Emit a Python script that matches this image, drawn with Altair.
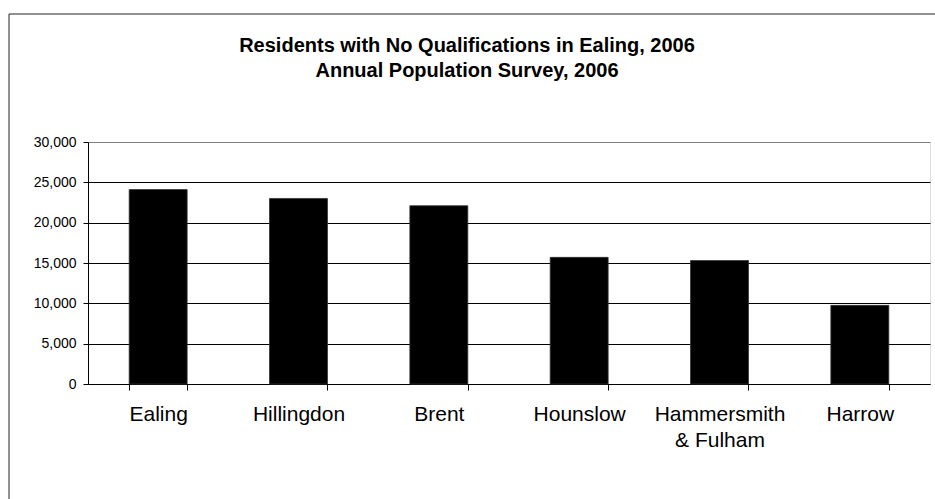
import altair as alt
import pandas as pd

# Residents with no qualifications, by West London borough (APS 2006)
boroughs = ["Ealing", "Hillingdon", "Brent", "Hounslow", "Hammersmith & Fulham", "Harrow"]
residents = [24100, 23000, 22100, 15700, 15300, 9750]

y_ticks = [0, 5000, 10000, 15000, 20000, 25000, 30000]

df = pd.DataFrame({"borough": boroughs, "residents": residents})

FONT = "Liberation Sans"

bars = alt.Chart(df).mark_bar(color="black", stroke="#333333", strokeWidth=0.8).encode(
    x=alt.X(
        "borough:N",
        sort=boroughs,
        title=None,
        scale=alt.Scale(paddingInner=0.587, paddingOuter=0.2935),
        axis=alt.Axis(
            labelAngle=0,
            labelFont=FONT,
            labelFontSize=21,
            labelColor="black",
            labelPadding=13,
            labelLineHeight=26,
            labelExpr="datum.label == 'Hammersmith & Fulham' ? ['Hammersmith', '& Fulham'] : datum.label",
            tickBand="extent",
            tickSize=6,
            tickColor="black",
            domainColor="black",
            grid=False,
        ),
    ),
    y=alt.Y(
        "residents:Q",
        title=None,
        scale=alt.Scale(domain=[0, 30000], nice=False),
        axis=alt.Axis(
            values=y_ticks,
            format=",.0f",
            labelFont=FONT,
            labelFontSize=14,
            labelColor="black",
            labelPadding=7,
            tickSize=5,
            tickColor="black",
            domainColor="black",
            grid=True,
            gridColor=alt.condition("datum.value >= 30000", alt.value("#808080"), alt.value("black")),
            gridWidth=1,
        ),
    ),
)

# Outer frame around the whole chart (top and left edges)
frame_top = alt.Chart().mark_rule(color="#222222", strokeWidth=1).encode(
    x=alt.value(-79), x2=alt.value(850), y=alt.value(-128)
)
frame_left = alt.Chart().mark_rule(color="#222222", strokeWidth=1).encode(
    x=alt.value(-79), y=alt.value(-128), y2=alt.value(360)
)

chart = alt.layer(bars, frame_top, frame_left).properties(
    width=842,
    height=242,
    autosize=alt.AutoSizeParams(type="none"),
    padding={"left": 88, "top": 142, "right": 5, "bottom": 115},
    title=alt.TitleParams(
        text=["Residents with No Qualifications in Ealing, 2006", "Annual Population Survey, 2006"],
        font=FONT,
        fontSize=20,
        fontWeight="bold",
        color="black",
        anchor="middle",
        frame="group",
        baseline="bottom",
        dx=-42,
        lineHeight=25,
        offset=-87,
    ),
).configure_view(
    stroke="#808080", strokeWidth=1.5
).configure(background="white")

chart.save("out.html", embed_options={"renderer": "svg", "actions": False})
